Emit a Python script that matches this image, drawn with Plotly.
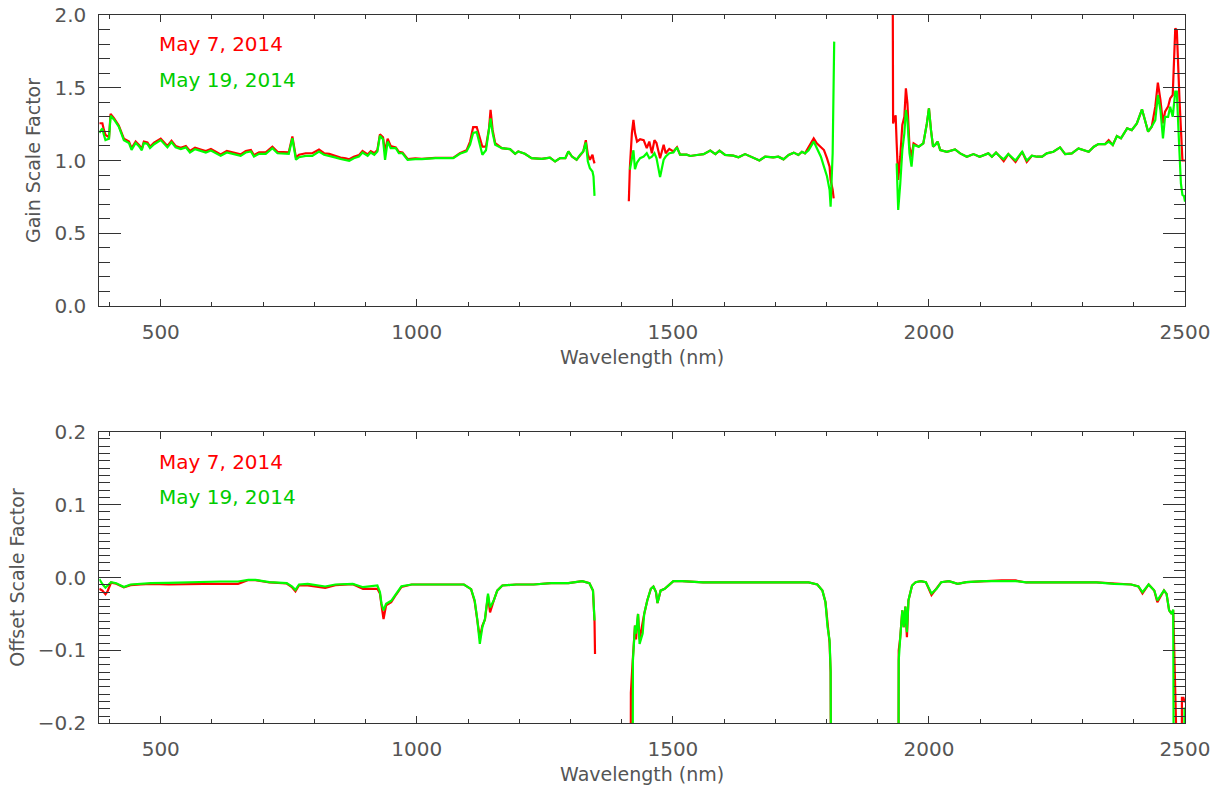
import plotly.graph_objects as go

# ---------------- Gain scale factor (top panel) ----------------
gain_wl = [
    380, 386, 389, 392, 399, 402, 409, 418, 428, 438,
    443, 451, 458, 463, 467, 474, 479, 487, 500, 506,
    513, 521, 529, 539, 549, 557, 567, 578, 588, 598,
    607, 617, 629, 640, 656, 666, 676, 682, 692, 705,
    718, 728, 741, 750, 757, 764, 770, 783, 796, 809,
    819, 829, 842, 851, 861, 868, 877, 887, 894, 904,
    910, 917, 923, 928, 934, 938, 943, 949, 959, 965,
    972, 982, 997, 1010, 1036, 1071, 1084, 1097, 1104, 1110,
    1117, 1124, 1128, 1135, 1141, 1144, 1148, 1153, 1166, 1182,
    1192, 1198, 1211, 1224, 1244, 1260, 1270, 1280, 1290, 1296,
    1303, 1312, 1319, 1325, 1330, 1334, 1338, 1343, 1345, 1347,
    1380,
    1414, 1416, 1420, 1423, 1426, 1430, 1436, 1443, 1449, 1454,
    1459, 1464, 1468, 1475, 1482, 1486, 1493, 1501, 1508, 1514,
    1527, 1534, 1547, 1560, 1573, 1583, 1591, 1602, 1618, 1628,
    1641, 1654, 1669, 1680, 1696, 1706, 1716, 1726, 1736, 1745,
    1752, 1758, 1765, 1775, 1781, 1789, 1795, 1801, 1806, 1808,
    1812, 1814, 1815, 1870,
    1929, 1930, 1932, 1935, 1937, 1940, 1944, 1948, 1952, 1955,
    1958, 1962, 1966, 1970, 1980, 1989, 1996, 2000, 2004, 2008,
    2012, 2017, 2022, 2035, 2051, 2061, 2074, 2087, 2099, 2116,
    2123, 2131, 2139, 2146, 2155, 2169, 2182, 2191, 2201, 2211,
    2221, 2230, 2243, 2256, 2266, 2279, 2292, 2302, 2312, 2322,
    2331, 2344, 2351, 2359, 2367, 2375, 2387, 2396, 2406, 2416,
    2422, 2428, 2435, 2442, 2447, 2452, 2457, 2461, 2467, 2471,
    2476, 2479, 2481, 2484, 2486, 2489, 2492, 2495, 2498, 2500,
]

gain_may7 = [
    1.256, 1.256, 1.21, 1.176, 1.16, 1.32, 1.29, 1.24, 1.15, 1.13,
    1.083, 1.13, 1.105, 1.08, 1.13, 1.124, 1.095, 1.122, 1.15, 1.13,
    1.10, 1.136, 1.10, 1.088, 1.10, 1.065, 1.088, 1.076, 1.065, 1.079,
    1.06, 1.042, 1.065, 1.056, 1.042, 1.065, 1.072, 1.037, 1.056, 1.056,
    1.095, 1.06, 1.056, 1.056, 1.165, 1.02, 1.04, 1.05, 1.05, 1.075,
    1.05, 1.045, 1.03, 1.02, 1.015, 1.008, 1.025, 1.037, 1.065, 1.042,
    1.065, 1.05, 1.072, 1.18, 1.16, 1.06, 1.15, 1.10, 1.09, 1.06,
    1.055, 1.01, 1.015, 1.012, 1.018, 1.018, 1.05, 1.07, 1.13, 1.23,
    1.23, 1.14, 1.095, 1.095, 1.22, 1.348, 1.21, 1.12, 1.085, 1.078,
    1.046, 1.062, 1.046, 1.016, 1.011, 1.02, 0.993, 1.016, 1.016, 1.062,
    1.027, 1.005, 1.04, 1.062, 1.14, 1.04, 1.005, 1.04, 1.005, 0.98,
    None,
    0.72, 0.95, 1.19, 1.28, 1.19, 1.13, 1.146, 1.14, 1.085, 1.13,
    1.05, 1.14, 1.12, 1.016, 1.108, 1.05, 1.08, 1.062, 1.09, 1.04,
    1.04, 1.031, 1.038, 1.044, 1.068, 1.044, 1.068, 1.038, 1.033, 1.022,
    1.044, 1.026, 1.0, 1.026, 1.022, 1.026, 1.008, 1.038, 1.054, 1.038,
    1.06, 1.049, 1.09, 1.152, 1.118, 1.095, 1.072, 1.015, 0.958, 0.866,
    0.80, 0.74, None, None,
    2.6, 1.255, 1.28, 1.31, 1.118, 0.866, 1.026, 1.244, 1.30, 1.496,
    1.393, 1.095, 1.026, 1.118, 1.095, 1.118, 1.255, 1.358, 1.209, 1.095,
    1.107, 1.13, 1.072, 1.06, 1.076, 1.049, 1.026, 1.044, 1.026, 1.049,
    1.026, 1.054, 1.026, 0.995, 1.044, 0.99, 1.06, 0.99, 1.033, 1.026,
    1.026, 1.049, 1.06, 1.09, 1.044, 1.049, 1.083, 1.072, 1.06, 1.095,
    1.113, 1.113, 1.14, 1.107, 1.168, 1.152, 1.221, 1.209, 1.255, 1.352,
    1.266, 1.198, 1.232, 1.37, 1.535, 1.416, 1.255, 1.335, 1.37, 1.427,
    1.45, 1.679, 1.908, 1.897, 1.69, 1.439, 1.22, 1.0, 1.0, 1.0,
]

gain_may19 = [
    1.19, 1.22, 1.176, 1.14, 1.15, 1.307, 1.28, 1.233, 1.14, 1.12,
    1.073, 1.12, 1.096, 1.07, 1.12, 1.114, 1.085, 1.112, 1.14, 1.12,
    1.09, 1.126, 1.09, 1.078, 1.09, 1.055, 1.078, 1.066, 1.055, 1.069,
    1.05, 1.032, 1.055, 1.046, 1.032, 1.055, 1.062, 1.027, 1.046, 1.046,
    1.085, 1.05, 1.046, 1.046, 1.153, 1.005, 1.023, 1.032, 1.032, 1.062,
    1.039, 1.032, 1.02, 1.01, 1.005, 0.998, 1.016, 1.027, 1.055, 1.032,
    1.055, 1.039, 1.062, 1.17, 1.146, 1.005, 1.13, 1.085, 1.085, 1.05,
    1.05, 1.005, 1.01, 1.01, 1.016, 1.016, 1.046, 1.062, 1.11, 1.19,
    1.195, 1.108, 1.04, 1.07, 1.21, 1.29, 1.19, 1.108, 1.085, 1.078,
    1.046, 1.062, 1.046, 1.016, 1.011, 1.02, 0.993, 1.016, 1.016, 1.062,
    1.027, 1.005, 1.04, 1.062, 1.124, 0.993, 0.947, 0.924, 0.89, 0.757,
    None,
    None, 0.936, 1.0, 1.07, 0.94, 0.986, 1.016, 1.027, 1.05, 1.016,
    1.027, 1.05, 1.016, 0.886, 1.005, 1.027, 1.05, 1.055, 1.09, 1.04,
    1.04, 1.031, 1.038, 1.044, 1.068, 1.044, 1.068, 1.038, 1.033, 1.022,
    1.044, 1.026, 1.0, 1.026, 1.022, 1.026, 1.008, 1.038, 1.054, 1.038,
    1.06, 1.049, 1.071, 1.13, 1.084, 1.026, 0.958, 0.89, 0.797, 0.683,
    1.05, 1.44, 1.817, None,
    None, None, None, None, 0.98, 0.66, 0.84, 1.07, 1.187, 1.347,
    1.278, 1.05, 0.958, 1.107, 1.095, 1.118, 1.255, 1.358, 1.209, 1.095,
    1.107, 1.13, 1.072, 1.06, 1.076, 1.049, 1.026, 1.044, 1.026, 1.049,
    1.026, 1.054, 1.026, 1.008, 1.044, 1.0, 1.06, 1.0, 1.033, 1.026,
    1.026, 1.049, 1.06, 1.09, 1.044, 1.049, 1.083, 1.072, 1.06, 1.095,
    1.113, 1.113, 1.13, 1.107, 1.168, 1.152, 1.221, 1.209, 1.255, 1.352,
    1.266, 1.198, 1.232, 1.278, 1.45, 1.347, 1.152, 1.30, 1.30, 1.37,
    1.30, 1.404, 1.473, 1.473, 1.347, 1.07, 0.843, 0.763, 0.756, 0.717,
]

# ---------------- Offset scale factor (bottom panel) ----------------
offset_wl = [
    380, 386, 392, 396, 403, 413, 428, 441, 461, 481,
    515, 556, 583, 617, 651, 671, 685, 712, 746, 756,
    763, 770, 787, 821, 841, 875, 895, 923, 928, 931,
    935, 940, 950, 960, 970, 990, 1058, 1092, 1106, 1113,
    1118, 1123, 1128, 1133, 1139, 1143, 1150, 1157, 1167, 1194,
    1228, 1262, 1296, 1323, 1337, 1344, 1347, 1348, 1380,
    1417, 1418, 1421, 1422, 1426, 1428, 1432, 1435, 1441, 1444,
    1450, 1457, 1462, 1467, 1470, 1476, 1484, 1494, 1501, 1518,
    1559, 1641, 1710, 1765, 1782, 1792, 1798, 1802, 1806, 1808,
    1810, 1870,
    1940, 1941, 1944, 1948, 1951, 1954, 1957, 1960, 1967, 1974,
    1984, 1994, 2005, 2015, 2024, 2039, 2056, 2073, 2107, 2142,
    2169, 2190, 2224, 2258, 2292, 2327, 2361, 2395, 2409, 2417,
    2429, 2440, 2446, 2453, 2459, 2464, 2469, 2474, 2477, 2479,
    2481, 2493, 2494, 2497, 2499, 2500,
]

offset_may7 = [
    -0.0155, -0.018, -0.023, -0.019, -0.007, -0.0085, -0.0135, -0.0105, -0.0095, -0.0087,
    -0.0096, -0.0087, -0.0087, -0.0087, -0.0087, -0.0035, -0.0035, -0.0068, -0.0082, -0.013,
    -0.019, -0.0105, -0.011, -0.0142, -0.0105, -0.0092, -0.0155, -0.0155, -0.022, -0.038,
    -0.057, -0.038, -0.034, -0.023, -0.013, -0.0096, -0.0096, -0.0096, -0.016, -0.033,
    -0.058, -0.083, -0.066, -0.058, -0.025, -0.048, -0.032, -0.018, -0.011, -0.0096,
    -0.0096, -0.0078, -0.0078, -0.005, -0.0078, -0.018, -0.06, -0.105, None,
    -0.5, -0.158, -0.12, -0.105, -0.066, -0.085, -0.05, -0.085, -0.06, -0.05,
    -0.0315, -0.0155, -0.0123, -0.02, -0.035, -0.018, -0.0155, -0.0087, -0.005, -0.005,
    -0.0068, -0.0068, -0.0068, -0.0068, -0.0096, -0.018, -0.034, -0.068, -0.09, -0.13,
    -0.5, None,
    -0.5, -0.1, -0.082, -0.045, -0.068, -0.04, -0.082, -0.0315, -0.011, -0.0064,
    -0.005, -0.0064, -0.024, -0.0155, -0.0064, -0.005, -0.0087, -0.0064, -0.005, -0.004,
    -0.004, -0.0068, -0.0068, -0.0064, -0.0068, -0.0068, -0.0087, -0.0096, -0.0123, -0.022,
    -0.0096, -0.0178, -0.034, -0.0245, -0.0178, -0.0225, -0.045, -0.05, -0.045, -0.1,
    -0.5, -0.5, -0.165, -0.165, -0.17, -0.17,
]

offset_may19 = [
    -0.002, -0.009, -0.014, -0.011, -0.0064, -0.0078, -0.013, -0.0096, -0.0087, -0.0078,
    -0.0073, -0.0064, -0.006, -0.0055, -0.0055, -0.0032, -0.0032, -0.0064, -0.0078, -0.012,
    -0.017, -0.0096, -0.0087, -0.0123, -0.0096, -0.0087, -0.0133, -0.011, -0.02, -0.036,
    -0.045, -0.036, -0.032, -0.022, -0.012, -0.0096, -0.0096, -0.0096, -0.016, -0.0315,
    -0.057, -0.091, -0.068, -0.057, -0.022, -0.041, -0.032, -0.018, -0.011, -0.0096,
    -0.0096, -0.0078, -0.0078, -0.005, -0.0078, -0.018, -0.059, None, None,
    None, None, -0.5, -0.114, -0.066, -0.077, -0.05, -0.091, -0.077, -0.05,
    -0.0315, -0.0155, -0.0123, -0.02, -0.035, -0.018, -0.0155, -0.0087, -0.005, -0.005,
    -0.0068, -0.0068, -0.0068, -0.0068, -0.0096, -0.018, -0.034, -0.068, -0.086, -0.127,
    -0.5, None,
    -0.5, -0.114, -0.082, -0.045, -0.068, -0.04, -0.075, -0.0315, -0.011, -0.0064,
    -0.005, -0.0064, -0.022, -0.0155, -0.0064, -0.005, -0.0087, -0.0064, -0.005, -0.005,
    -0.005, -0.0068, -0.0068, -0.0064, -0.0068, -0.0068, -0.0087, -0.0096, -0.0123, -0.02,
    -0.0096, -0.0178, -0.0315, -0.0245, -0.0178, -0.0225, -0.045, -0.05, -0.044, -0.5,
    -0.5, -0.5, -0.5, -0.5, -0.18, -0.18,
]

series_labels = ["May 7, 2014", "May 19, 2014"]
line_colors = ["#ff0000", "#00ff00"]
text_colors = ["#ff0000", "#00cc00"]

FONT = "DejaVu Sans"
AXCOL = "#333333"
TXTCOL = "#555555"

fig = go.Figure()
for ys, c, name in [(gain_may7, line_colors[0], series_labels[0]),
                    (gain_may19, line_colors[1], series_labels[1])]:
    fig.add_trace(go.Scatter(x=gain_wl, y=ys, mode="lines", name=name,
                             line=dict(color=c, width=2.2), xaxis="x", yaxis="y"))
for ys, c, name in [(offset_may7, line_colors[0], series_labels[0]),
                    (offset_may19, line_colors[1], series_labels[1])]:
    fig.add_trace(go.Scatter(x=offset_wl, y=ys, mode="lines", name=name,
                             line=dict(color=c, width=2.2), xaxis="x2", yaxis="y2"))

W, H = 1214, 787
xl, xr = 99.3 / W, 1185 / W


def xax(anchor):
    return dict(domain=[xl, xr], range=[380, 2500], anchor=anchor, automargin=False,
                showgrid=False, zeroline=False, showline=True, mirror="ticks",
                linecolor=AXCOL, linewidth=1, ticks="inside", ticklen=7,
                tickcolor=AXCOL, tickwidth=1, tick0=0, dtick=500,
                minor=dict(dtick=100, tick0=0, ticks="inside", ticklen=4,
                           tickcolor=AXCOL, tickwidth=1),
                tickfont=dict(family=FONT, size=20, color=TXTCOL),
                ticklabelstandoff=8,
                title=dict(text="Wavelength (nm)", standoff=7,
                           font=dict(family=FONT, size=19, color=TXTCOL)))


def yax(anchor, dom, rng, dt, mdt, title):
    return dict(domain=dom, range=rng, anchor=anchor, automargin=False,
                showgrid=False, zeroline=False, showline=True, mirror="ticks",
                linecolor=AXCOL, linewidth=1, ticks="inside", ticklen=22,
                tickcolor=AXCOL, tickwidth=1, tick0=0, dtick=dt, tickformat=".1f",
                minor=dict(dtick=mdt, tick0=0, ticks="inside", ticklen=11,
                           tickcolor=AXCOL, tickwidth=1),
                tickfont=dict(family=FONT, size=20, color=TXTCOL),
                ticklabelstandoff=8,
                title=dict(text=title, standoff=8,
                           font=dict(family=FONT, size=19, color=TXTCOL)))


fig.update_layout(
    width=W, height=H, margin=dict(l=0, r=0, t=0, b=0, autoexpand=False),
    paper_bgcolor="white", plot_bgcolor="white", showlegend=False,
    xaxis=xax("y"),
    yaxis=yax("x", [1 - 306 / H, 1 - 15 / H], [0, 2], 0.5, 0.1, "Gain Scale Factor"),
    xaxis2=xax("y2"),
    yaxis2=yax("x2", [1 - 723.3 / H, 1 - 431.7 / H], [-0.2, 0.2], 0.1, 0.01,
               "Offset Scale Factor"),
)

# in-plot labels (legend text)
for i, (lab, col) in enumerate(zip(series_labels, text_colors)):
    fig.add_annotation(x=492, y=[1.80, 1.553][i], xref="x", yref="y", text=lab,
                       showarrow=False, xanchor="left", yanchor="middle",
                       font=dict(family=FONT, size=20, color=col))
    fig.add_annotation(x=492, y=[0.159, 0.110][i], xref="x2", yref="y2", text=lab,
                       showarrow=False, xanchor="left", yanchor="middle",
                       font=dict(family=FONT, size=20, color=col))

fig.write_html("out.html")
